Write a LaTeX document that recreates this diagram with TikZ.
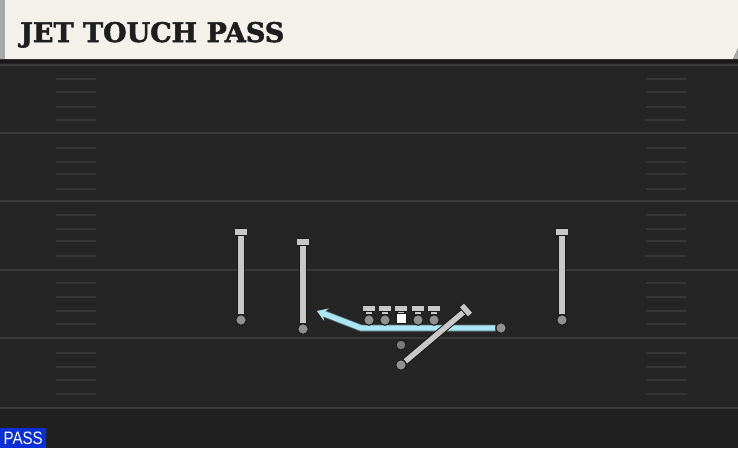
\documentclass[tikz,border=0pt]{standalone}
\usepackage{fontspec}
\newfontfamily\titlefont[FakeBold=2]{DejaVu Serif Bold}
\newfontfamily\tagfont{Liberation Sans}
\usetikzlibrary{arrows.meta}
\definecolor{fieldbg}{HTML}{252525}
\definecolor{bottombg}{HTML}{202020}
\definecolor{yardline}{HTML}{3A3A3A}
\definecolor{hashcol}{HTML}{363636}
\definecolor{headerbg}{HTML}{F4F1EA}
\definecolor{headeredge}{HTML}{A9A9A7}
\definecolor{titleink}{HTML}{1E1E1E}
\definecolor{routegrey}{HTML}{C8C8C8}
\definecolor{outline}{HTML}{1A1A1A}
\definecolor{jetblue}{HTML}{ABE6F5}
\definecolor{tagblue}{HTML}{0B2FD6}
\definecolor{qbgrey}{HTML}{7A7A7A}
\pgfdeclarelayer{field}
\pgfdeclarelayer{routes}
\pgfsetlayers{field,routes,main}
\tikzset{
  yard/.style={draw=yardline, line width=2pt},
  hashmark/.style={draw=hashcol, line width=1.6pt},
  route/.style={draw=routegrey, line width=5.4pt, preaction={draw=outline, line width=7.4pt}},
  tbar/.style={draw=routegrey, line width=4.4pt, preaction={draw=outline, line width=6.4pt}},
  jetroute/.style={draw=jetblue, line width=5.4pt, preaction={draw=outline!60!jetblue, line width=7pt}},
  playerdot/.style={circle, fill=routegrey!72!black, draw=outline, line width=1pt, minimum size=10.5pt, inner sep=0pt},
  qbdot/.style={circle, fill=qbgrey, draw=outline, line width=1pt, minimum size=10pt, inner sep=0pt},
  centersq/.style={rectangle, fill=white, draw=outline, line width=0.8pt, minimum size=10pt, inner sep=0pt},
}
\begin{document}
\begin{tikzpicture}[x=1pt,y=-1pt]
\useasboundingbox (0,0) rectangle (738,448);
\begin{pgfonlayer}{field}
\fill[fieldbg] (0,0) rectangle (738,448);
\fill[bottombg] (0,408) rectangle (738,448);
\foreach \yy in {65,133,201,270,338,408} \draw[yard] (0,\yy) -- (738,\yy);
\foreach \yy in {79,92,107,120,148,162,174,189,215,229,241,256,283,297,311,324,353,367,380,394} {
  \draw[hashmark] (56,\yy) -- (96,\yy);
  \draw[hashmark] (646,\yy) -- (686,\yy);
}
\fill[black!90] (0,58) rectangle (738,63);
\fill[headerbg] (0,0) -- (738,0) -- (738,48) -- (733,59) -- (0,59) -- cycle;
\fill[headeredge] (733,59) -- (738,48) -- (738,59) -- cycle;
\fill[headeredge] (0,0) rectangle (5,59);
\end{pgfonlayer}
\node[anchor=base west, inner sep=0pt, text=titleink, font=\titlefont\fontsize{27}{27}\selectfont] (title) at (20,42) {JET TOUCH PASS};
\node[fill=tagblue, text=white, anchor=south west, inner sep=0pt, minimum width=46pt, minimum height=20pt] (tag) at (0,448) {\tagfont\fontsize{18}{18}\selectfont\scalebox{0.84}[1]{PASS}};
% receivers
\node[playerdot] (wra) at (241,320) {};
\node[playerdot] (wrb) at (303,329) {};
\node[playerdot] (wrc) at (562,320) {};
\coordinate (wraend) at (241,232);
\coordinate (wrbend) at (303,242);
\coordinate (wrcend) at (562,232);
\coordinate (wrabl) at (235,232); \coordinate (wrabr) at (247,232);
\coordinate (wrbbl) at (297,242); \coordinate (wrbbr) at (309,242);
\coordinate (wrcbl) at (556,232); \coordinate (wrcbr) at (568,232);
% line
\node[playerdot] (lt) at (369,320) {};
\node[playerdot] (lg) at (385,320) {};
\node[centersq] (ctr) at (401,318) {};
\node[playerdot] (rg) at (418,320) {};
\node[playerdot] (rt) at (434,320) {};
\foreach \n/\xx in {lt/369,lg/385,ctr/401,rg/418,rt/434} {
  \coordinate (\n end) at (\xx,308.5);
  \coordinate (\n bl) at (\xx-6,308.5);
  \coordinate (\n br) at (\xx+6,308.5);
}
% backs
\node[qbdot] (qb) at (401,345) {};
\node[playerdot] (rb) at (401,365) {};
\coordinate (rbend) at (466,310);
\coordinate (rbbl) at (462,305.5);
\coordinate (rbbr) at (470,314.5);
% jet motion
\node[playerdot] (jet) at (501,328) {};
\coordinate (jetbend) at (361,328);
\coordinate (jettip) at (317,311);
\begin{pgfonlayer}{routes}
\draw[route] (wra) -- (wraend);
\draw[route] (wrabl) -- (wrabr);
\draw[route] (wrb) -- (wrbend);
\draw[route] (wrbbl) -- (wrbbr);
\draw[route] (wrc) -- (wrcend);
\draw[route] (wrcbl) -- (wrcbr);
\foreach \n in {lt,lg,ctr,rg,rt} {
  \draw[route] (\n) -- (\n end);
  \draw[tbar] (\n bl) -- (\n br);
}
\draw[jetroute, -{Stealth[length=10pt,width=13pt,inset=4pt]}] (jet) -- (jetbend) -- (jettip);
\draw[route] (rb) -- (rbend);
\draw[route] (rbbl) -- (rbbr);
\end{pgfonlayer}
\end{tikzpicture}
\end{document}
